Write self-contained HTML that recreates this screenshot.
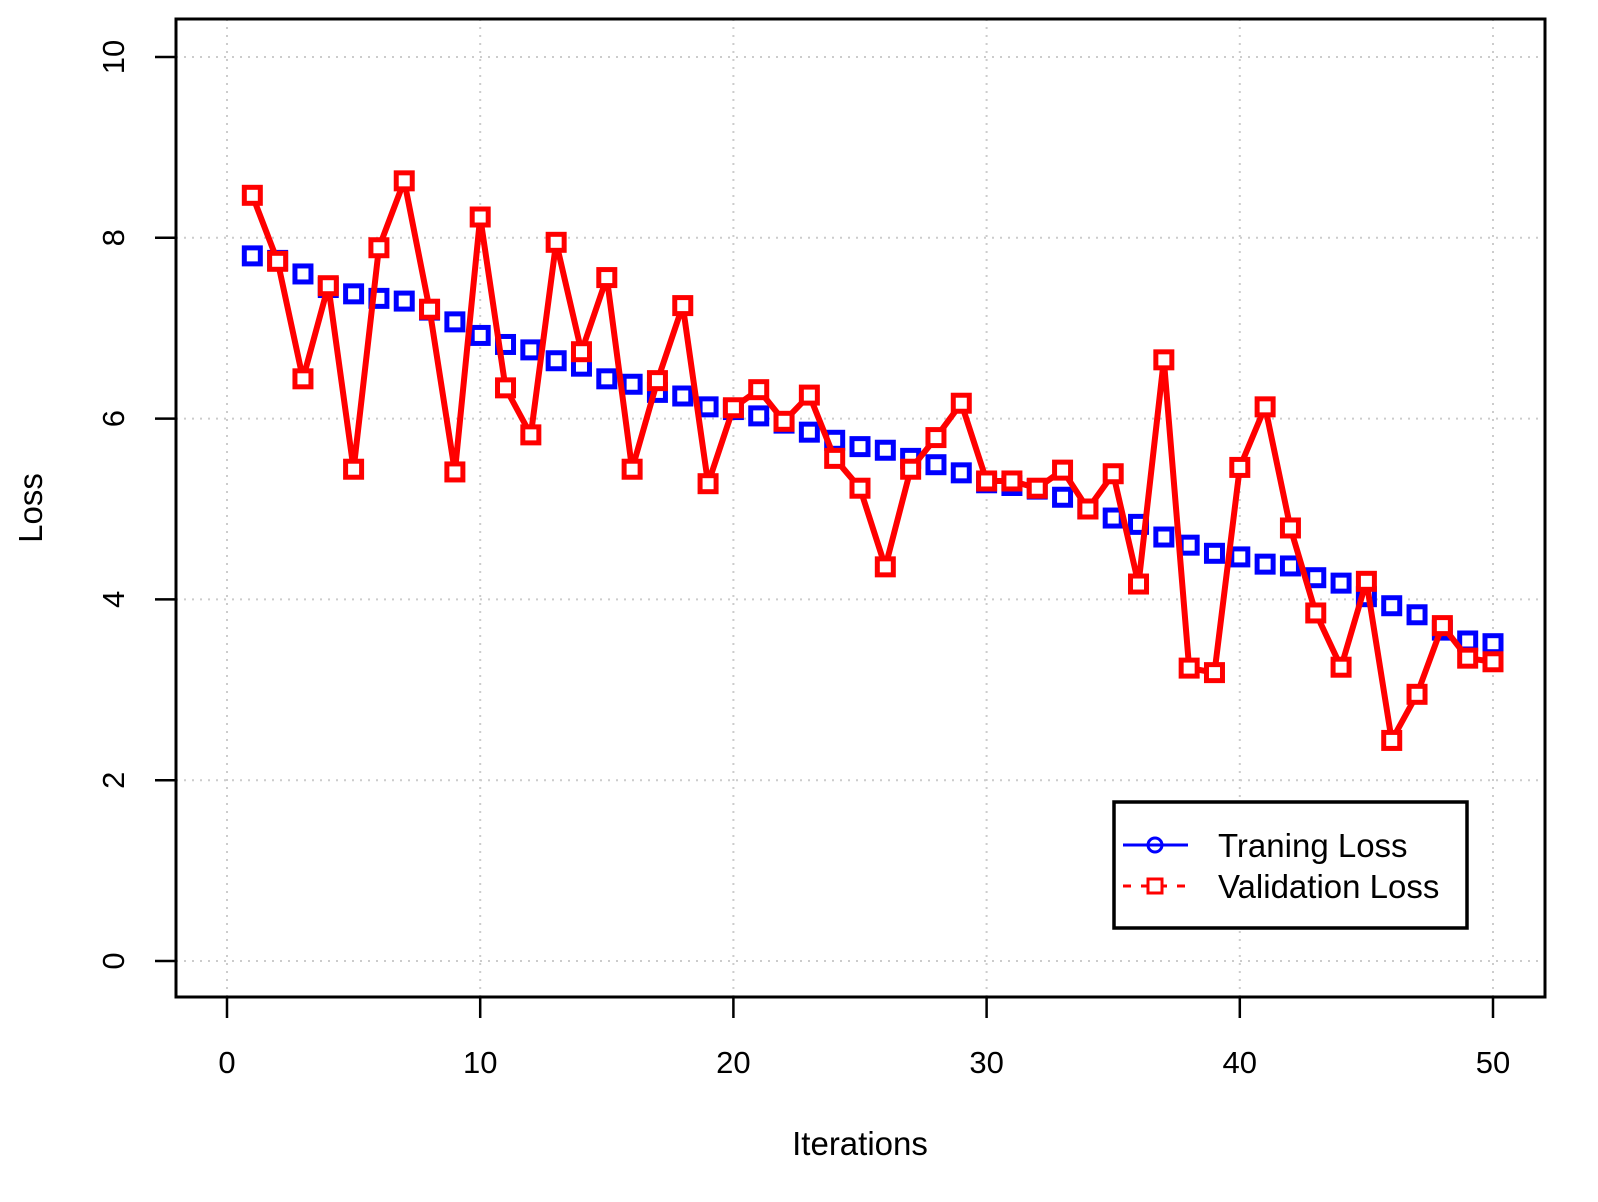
<!DOCTYPE html>
<html><head><meta charset="utf-8"><style>
html,body{margin:0;padding:0;background:#fff;}
svg{display:block;font-family:"Liberation Sans",Arial,sans-serif;}
</style></head><body>
<svg id="chart" width="1598" height="1202" viewBox="0 0 1598 1202" xmlns="http://www.w3.org/2000/svg">
<rect x="0" y="0" width="1598" height="1202" fill="#fff"/>
<g id="grid"></g>
<g id="axes"></g>
<g id="series"></g>
<rect x="176" y="19" width="1369" height="978" fill="none" stroke="#000" stroke-width="3"/>
<text transform="translate(42,508) rotate(-90)" text-anchor="middle" font-size="33">Loss</text>
<text x="860" y="1155" text-anchor="middle" font-size="33">Iterations</text>
<g>
<rect x="1114" y="802" width="353" height="126" fill="#fff" stroke="#000" stroke-width="3.5"/>
<g>
<line x1="1123" y1="845" x2="1188" y2="845" stroke="#00f" stroke-width="3"/>
<circle cx="1155" cy="845" r="7" fill="none" stroke="#00f" stroke-width="3"/>
<text x="1218" y="857" font-size="33">Traning Loss</text>
</g>
<g>
<line x1="1123" y1="886" x2="1188" y2="886" stroke="#f00" stroke-width="3" stroke-dasharray="8,10"/>
<rect x="1148" y="879" width="14" height="14" fill="#fff" stroke="#f00" stroke-width="3"/>
<text x="1218" y="898" font-size="33">Validation Loss</text>
</g>
</g>
</svg>
<script>
const iterations = Array.from({length:50},(_,i)=>i+1);
const trainingLoss = [7.8,7.75,7.6,7.45,7.38,7.33,7.3,7.2,7.07,6.92,6.82,6.76,6.64,6.58,6.44,6.38,6.29,6.25,6.13,6.1,6.03,5.95,5.85,5.76,5.69,5.65,5.56,5.49,5.4,5.29,5.26,5.22,5.13,5.0,4.9,4.83,4.69,4.6,4.51,4.47,4.39,4.37,4.24,4.18,4.03,3.93,3.83,3.66,3.54,3.51];
const validationLoss = [8.47,7.74,6.44,7.47,5.44,7.89,8.63,7.21,5.41,8.23,6.34,5.82,7.95,6.74,7.56,5.44,6.42,7.25,5.28,6.12,6.32,5.97,6.26,5.56,5.23,4.36,5.44,5.79,6.17,5.31,5.31,5.23,5.43,5.0,5.39,4.17,6.65,3.24,3.19,5.46,6.13,4.79,3.85,3.25,4.2,2.44,2.95,3.71,3.35,3.31];
const xTicks = [0,10,20,30,40,50];
const yTicks = [0,2,4,6,8,10];
const NS="http://www.w3.org/2000/svg";
function X(v){return 227 + v*(1493-227)/50;}
function Y(v){return 961 - v*(961-57)/10;}
function mk(t,a,p){const e=document.createElementNS(NS,t);for(const k in a)e.setAttribute(k,a[k]);p.appendChild(e);return e;}
const grid=document.getElementById('grid'), axes=document.getElementById('axes'), series=document.getElementById('series');
xTicks.forEach(t=>{
  const g=mk('line',{x1:X(t),x2:X(t),y1:19,y2:997,stroke:'#ccc','stroke-width':2,'stroke-dasharray':'2,6'},grid);
  
  
  const tk=mk('line',{x1:X(t),x2:X(t),y1:997,y2:1018,stroke:'#000','stroke-width':2.5},axes);
  
  
  const tx=mk('text',{x:X(t),y:1073,'text-anchor':'middle','font-size':31},axes);
  tx.textContent=t;
  
  
});
mk('line',{x1:X(0),x2:X(50),y1:997,y2:997,stroke:'#000','stroke-width':2.5},axes);
yTicks.forEach(t=>{
  const g=mk('line',{x1:176,x2:1545,y1:Y(t),y2:Y(t),stroke:'#ccc','stroke-width':2,'stroke-dasharray':'2,6'},grid);
  
  
  const tk=mk('line',{x1:155,x2:176,y1:Y(t),y2:Y(t),stroke:'#000','stroke-width':2.5},axes);
  
  
  const tx=mk('text',{transform:`translate(124,${Y(t)}) rotate(-90)`,'text-anchor':'middle','font-size':31},axes);
  tx.textContent=t;
  
  
});
trainingLoss.forEach((v,i)=>{
  const r=mk('rect',{x:X(iterations[i])-8,y:Y(v)-8,width:16,height:16,fill:'#fff',stroke:'#00f','stroke-width':5},series);
  
  
});
const pts=validationLoss.map((v,i)=>X(iterations[i])+','+Y(v)).join(' ');
const pl=mk('polyline',{points:pts,fill:'none',stroke:'#f00','stroke-width':6,'stroke-linejoin':'round'},series);


validationLoss.forEach((v,i)=>{
  const r=mk('rect',{x:X(iterations[i])-8,y:Y(v)-8,width:16,height:16,fill:'#fff',stroke:'#f00','stroke-width':5},series);
  
  
});
</script>
</body></html>
